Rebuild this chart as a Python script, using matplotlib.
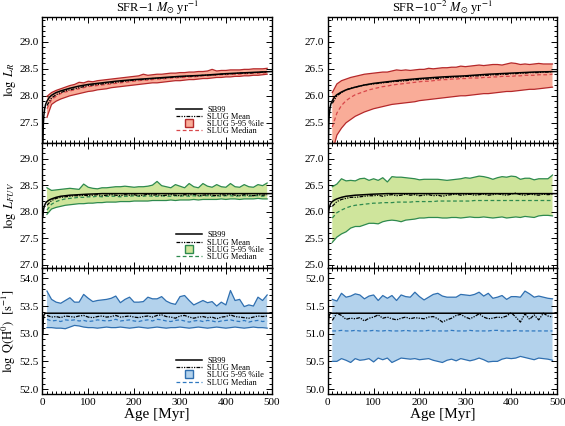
import matplotlib
matplotlib.use("Agg")
import matplotlib.pyplot as plt
from matplotlib.lines import Line2D
from matplotlib.ticker import MultipleLocator, FormatStrFormatter
import numpy as np

plt.rcParams['font.family'] = ['Liberation Serif', 'DejaVu Serif']
plt.rcParams['mathtext.fontset'] = 'stix'

# SLUG output ages [Myr]
t_slug = np.arange(10, 500, 10)
# SB99 ages [Myr]
t_sb = [1, 2, 3, 5, 7, 10, 15, 20, 30, 40, 60, 80, 100, 130, 160, 200, 250, 300, 350, 400, 450, 500]

# ---- log L_R, SFR = 1
lr1_sb99 = [27.10, 27.45, 27.62, 27.76, 27.84, 27.90, 27.97, 28.01, 28.06, 28.09, 28.14, 28.18, 28.21,
            28.24, 28.27, 28.30, 28.33, 28.36, 28.38, 28.41, 28.43, 28.45]
lr1_hi = [27.99, 28.06, 28.10, 28.13, 28.16, 28.19, 28.21, 28.25, 28.24, 28.27, 28.26, 28.28, 28.29, 28.30,
          28.31, 28.32, 28.33, 28.34, 28.35, 28.36, 28.37, 28.40, 28.38, 28.39, 28.40, 28.40, 28.41, 28.42,
          28.42, 28.43, 28.43, 28.44, 28.44, 28.45, 28.45, 28.46, 28.49, 28.46, 28.47, 28.47, 28.48, 28.48,
          28.48, 28.49, 28.49, 28.50, 28.50, 28.50, 28.51]
lr1_lo = [27.60, 27.84, 27.90, 27.94, 27.97, 28.00, 28.02, 28.04, 28.06, 28.08, 28.09, 28.11, 28.12, 28.13,
          28.15, 28.16, 28.17, 28.18, 28.19, 28.20, 28.21, 28.22, 28.23, 28.24, 28.24, 28.25, 28.26, 28.27,
          28.28, 28.28, 28.29, 28.30, 28.30, 28.31, 28.32, 28.32, 28.33, 28.34, 28.34, 28.35, 28.35, 28.36,
          28.36, 28.37, 28.37, 28.38, 28.38, 28.39, 28.40]
lr1_mean = [27.82, 27.96, 28.02, 28.06, 28.09, 28.11, 28.13, 28.15, 28.17, 28.19, 28.20, 28.21, 28.22, 28.23,
            28.24, 28.25, 28.26, 28.27, 28.28, 28.29, 28.30, 28.30, 28.31, 28.32, 28.32, 28.33, 28.33, 28.34,
            28.35, 28.35, 28.36, 28.36, 28.37, 28.37, 28.38, 28.38, 28.39, 28.39, 28.40, 28.40, 28.41, 28.41,
            28.42, 28.42, 28.42, 28.43, 28.43, 28.44, 28.44]
lr1_med = [27.76, 27.93, 27.99, 28.04, 28.07, 28.09, 28.11, 28.13, 28.15, 28.17, 28.18, 28.19, 28.20, 28.21,
           28.22, 28.23, 28.24, 28.25, 28.26, 28.27, 28.28, 28.29, 28.29, 28.30, 28.31, 28.31, 28.32, 28.33,
           28.33, 28.34, 28.34, 28.35, 28.35, 28.36, 28.37, 28.37, 28.38, 28.38, 28.39, 28.39, 28.40, 28.40,
           28.40, 28.41, 28.41, 28.42, 28.42, 28.42, 28.43]

# ---- log L_R, SFR = 1e-2
lr2_sb99 = [25.05, 25.42, 25.62, 25.77, 25.85, 25.91, 25.98, 26.02, 26.07, 26.11, 26.16, 26.20, 26.23,
            26.26, 26.29, 26.32, 26.35, 26.37, 26.40, 26.42, 26.44, 26.45]
lr2_hi = [26.06, 26.22, 26.28, 26.31, 26.34, 26.36, 26.38, 26.40, 26.41, 26.42, 26.43, 26.44, 26.44, 26.46,
          26.48, 26.47, 26.48, 26.47, 26.48, 26.49, 26.49, 26.51, 26.50, 26.51, 26.52, 26.52, 26.53, 26.53,
          26.55, 26.54, 26.55, 26.56, 26.57, 26.56, 26.57, 26.58, 26.58, 26.57, 26.59, 26.61, 26.60, 26.58,
          26.59, 26.58, 26.59, 26.60, 26.59, 26.59, 26.59]
lr2_lo = [24.95, 25.27, 25.40, 25.50, 25.56, 25.62, 25.66, 25.70, 25.73, 25.76, 25.78, 25.80, 25.82, 25.84,
          25.85, 25.86, 25.87, 25.88, 25.89, 25.91, 25.92, 25.93, 25.94, 25.95, 25.96, 25.97, 25.98, 25.99,
          26.00, 26.00, 26.01, 26.02, 26.03, 26.04, 26.04, 26.05, 26.06, 26.07, 26.08, 26.08, 26.09, 26.10,
          26.11, 26.12, 26.12, 26.13, 26.14, 26.15, 26.16]
lr2_mean = [25.86, 26.00, 26.06, 26.11, 26.14, 26.16, 26.18, 26.20, 26.21, 26.22, 26.23, 26.24, 26.25, 26.26,
            26.27, 26.27, 26.28, 26.29, 26.30, 26.30, 26.31, 26.31, 26.32, 26.32, 26.33, 26.34, 26.34, 26.35,
            26.35, 26.36, 26.36, 26.37, 26.37, 26.38, 26.38, 26.39, 26.39, 26.40, 26.40, 26.41, 26.41, 26.42,
            26.42, 26.43, 26.43, 26.43, 26.44, 26.44, 26.45]
lr2_med = [25.42, 25.68, 25.82, 25.91, 25.97, 26.02, 26.05, 26.08, 26.11, 26.13, 26.15, 26.17, 26.18, 26.20,
           26.21, 26.22, 26.23, 26.24, 26.25, 26.26, 26.27, 26.27, 26.28, 26.29, 26.30, 26.30, 26.31, 26.31,
           26.32, 26.32, 26.33, 26.33, 26.33, 26.34, 26.34, 26.35, 26.35, 26.36, 26.36, 26.36, 26.37, 26.37,
           26.38, 26.38, 26.38, 26.39, 26.39, 26.39, 26.40]

# ---- log L_FUV, SFR = 1
fuv1_sb99 = [27.90, 28.00, 28.06, 28.12, 28.16, 28.19, 28.22, 28.24, 28.27, 28.29, 28.31, 28.32, 28.33,
             28.34, 28.34, 28.34, 28.34, 28.34, 28.34, 28.34, 28.34, 28.34]
fuv1_hi = [28.45, 28.40, 28.41, 28.42, 28.43, 28.44, 28.43, 28.42, 28.52, 28.46, 28.44, 28.43, 28.45, 28.45,
           28.46, 28.47, 28.47, 28.48, 28.47, 28.46, 28.47, 28.47, 28.48, 28.50, 28.57, 28.49, 28.47, 28.45,
           28.51, 28.48, 28.45, 28.53, 28.47, 28.45, 28.53, 28.48, 28.46, 28.51, 28.47, 28.46, 28.53, 28.47,
           28.46, 28.51, 28.47, 28.46, 28.51, 28.49, 28.54]
fuv1_lo = [27.95, 28.05, 28.08, 28.10, 28.12, 28.13, 28.14, 28.15, 28.15, 28.16, 28.16, 28.17, 28.17, 28.18,
           28.18, 28.18, 28.19, 28.19, 28.19, 28.20, 28.20, 28.20, 28.20, 28.21, 28.21, 28.21, 28.21, 28.22,
           28.21, 28.22, 28.22, 28.22, 28.23, 28.22, 28.23, 28.23, 28.23, 28.23, 28.24, 28.23, 28.24, 28.24,
           28.23, 28.24, 28.24, 28.24, 28.25, 28.24, 28.24]
fuv1_mean = [28.12, 28.21, 28.25, 28.27, 28.28, 28.29, 28.30, 28.30, 28.31, 28.30, 28.31, 28.32, 28.30, 28.31,
             28.32, 28.31, 28.30, 28.32, 28.31, 28.32, 28.30, 28.31, 28.33, 28.31, 28.32, 28.30, 28.31, 28.32,
             28.31, 28.30, 28.32, 28.31, 28.33, 28.30, 28.31, 28.32, 28.31, 28.30, 28.32, 28.31, 28.33, 28.31,
             28.30, 28.32, 28.31, 28.30, 28.32, 28.31, 28.32]
fuv1_med = [28.03, 28.14, 28.19, 28.22, 28.24, 28.25, 28.26, 28.27, 28.27, 28.28, 28.28, 28.29, 28.28, 28.29,
            28.29, 28.29, 28.28, 28.29, 28.29, 28.30, 28.29, 28.29, 28.30, 28.29, 28.29, 28.30, 28.29, 28.29,
            28.30, 28.29, 28.30, 28.29, 28.30, 28.29, 28.30, 28.30, 28.29, 28.30, 28.29, 28.30, 28.30, 28.29,
            28.30, 28.30, 28.29, 28.30, 28.30, 28.29, 28.30]

# ---- log L_FUV, SFR = 1e-2
fuv2_sb99 = [25.90, 26.00, 26.06, 26.12, 26.16, 26.19, 26.22, 26.24, 26.27, 26.29, 26.31, 26.32, 26.33,
             26.34, 26.34, 26.34, 26.34, 26.34, 26.34, 26.34, 26.34, 26.34]
fuv2_hi = [26.47, 26.52, 26.62, 26.58, 26.59, 26.58, 26.62, 26.63, 26.59, 26.62, 26.59, 26.64, 26.56, 26.66,
           26.65, 26.65, 26.64, 26.63, 26.62, 26.60, 26.61, 26.61, 26.61, 26.61, 26.60, 26.59, 26.60, 26.61,
           26.62, 26.64, 26.63, 26.65, 26.67, 26.66, 26.64, 26.61, 26.64, 26.66, 26.65, 26.67, 26.66, 26.61,
           26.63, 26.63, 26.60, 26.62, 26.62, 26.62, 26.69]
fuv2_lo = [25.42, 25.52, 25.58, 25.62, 25.69, 25.72, 25.72, 25.75, 25.78, 25.78, 25.77, 25.81, 25.83, 25.84,
           25.83, 25.81, 25.84, 25.85, 25.86, 25.88, 25.88, 25.89, 25.89, 25.89, 25.88, 25.88, 25.89, 25.89,
           25.88, 25.89, 25.90, 25.89, 25.89, 25.90, 25.89, 25.88, 25.89, 25.90, 25.88, 25.89, 25.90, 25.89,
           25.91, 25.90, 25.89, 25.92, 25.93, 25.93, 25.92]
fuv2_mean = [26.10, 26.19, 26.23, 26.25, 26.27, 26.27, 26.28, 26.29, 26.30, 26.30, 26.31, 26.29, 26.31, 26.32,
             26.30, 26.31, 26.33, 26.31, 26.32, 26.30, 26.31, 26.32, 26.30, 26.31, 26.29, 26.31, 26.32, 26.33,
             26.31, 26.32, 26.33, 26.31, 26.32, 26.33, 26.31, 26.32, 26.34, 26.32, 26.31, 26.33, 26.35, 26.32,
             26.31, 26.33, 26.32, 26.31, 26.33, 26.32, 26.33]
fuv2_med = [25.88, 25.98, 26.03, 26.07, 26.10, 26.12, 26.13, 26.14, 26.15, 26.16, 26.16, 26.17, 26.17, 26.17,
            26.18, 26.18, 26.18, 26.18, 26.19, 26.19, 26.19, 26.19, 26.19, 26.20, 26.20, 26.20, 26.20, 26.20,
            26.20, 26.20, 26.20, 26.21, 26.21, 26.21, 26.21, 26.21, 26.21, 26.21, 26.21, 26.21, 26.21, 26.21,
            26.21, 26.21, 26.21, 26.21, 26.21, 26.21, 26.21]

# ---- log Q(H0), SFR = 1
q1_sb99 = [53.00, 53.25, 53.33, 53.36, 53.37, 53.37, 53.37, 53.37, 53.37, 53.37, 53.37, 53.37, 53.37,
           53.37, 53.37, 53.37, 53.37, 53.37, 53.37, 53.37, 53.37, 53.37]
q1_hi = [53.77, 53.62, 53.57, 53.55, 53.60, 53.65, 53.57, 53.57, 53.71, 53.64, 53.58, 53.60, 53.61, 53.62,
         53.64, 53.68, 53.56, 53.62, 53.66, 53.57, 53.57, 53.58, 53.66, 53.63, 53.63, 53.67, 53.59, 53.55,
         53.53, 53.67, 53.69, 53.60, 53.52, 53.56, 53.60, 53.56, 53.58, 53.50, 53.57, 53.52, 53.78, 53.60,
         53.62, 53.49, 53.52, 53.50, 53.66, 53.60, 53.70]
q1_lo = [53.11, 53.11, 53.10, 53.10, 53.09, 53.12, 53.15, 53.14, 53.12, 53.11, 53.11, 53.10, 53.11, 53.12,
         53.11, 53.11, 53.12, 53.11, 53.10, 53.11, 53.12, 53.11, 53.10, 53.11, 53.12, 53.11, 53.10, 53.11,
         53.11, 53.12, 53.11, 53.10, 53.11, 53.12, 53.11, 53.10, 53.11, 53.12, 53.11, 53.10, 53.11, 53.12,
         53.11, 53.10, 53.11, 53.12, 53.11, 53.11, 53.10]
q1_mean = [53.33, 53.30, 53.31, 53.29, 53.32, 53.31, 53.30, 53.32, 53.33, 53.30, 53.29, 53.31, 53.32, 53.30,
           53.31, 53.33, 53.30, 53.31, 53.32, 53.30, 53.29, 53.31, 53.32, 53.30, 53.33, 53.34, 53.31, 53.30,
           53.28, 53.32, 53.33, 53.30, 53.28, 53.30, 53.31, 53.29, 53.30, 53.27, 53.30, 53.31, 53.34, 53.31,
           53.30, 53.29, 53.28, 53.30, 53.32, 53.31, 53.32]
q1_med = [53.26, 53.23, 53.24, 53.22, 53.25, 53.24, 53.25, 53.23, 53.24, 53.22, 53.23, 53.25, 53.24, 53.23,
          53.24, 53.26, 53.23, 53.24, 53.25, 53.23, 53.22, 53.24, 53.25, 53.23, 53.26, 53.25, 53.23, 53.22,
          53.24, 53.25, 53.23, 53.21, 53.23, 53.24, 53.22, 53.24, 53.23, 53.21, 53.23, 53.24, 53.25, 53.23,
          53.22, 53.24, 53.21, 53.23, 53.24, 53.22, 53.23]

# ---- log Q(H0), SFR = 1e-2
q2_sb99 = [51.00, 51.25, 51.33, 51.36, 51.37, 51.37, 51.37, 51.37, 51.37, 51.37, 51.37, 51.37, 51.37,
           51.37, 51.37, 51.37, 51.37, 51.37, 51.37, 51.37, 51.37, 51.37]
q2_hi = [51.62, 51.59, 51.73, 51.66, 51.68, 51.72, 51.70, 51.63, 51.68, 51.70, 51.60, 51.69, 51.64, 51.69,
         51.60, 51.70, 51.67, 51.66, 51.75, 51.67, 51.61, 51.66, 51.71, 51.73, 51.68, 51.66, 51.66, 51.66,
         51.71, 51.70, 51.69, 51.71, 51.75, 51.68, 51.73, 51.64, 51.66, 51.69, 51.62, 51.67, 51.67, 51.66,
         51.77, 51.72, 51.66, 51.68, 51.66, 51.64, 51.63]
q2_lo = [50.50, 50.50, 50.55, 50.52, 50.48, 50.55, 50.52, 50.53, 50.55, 50.49, 50.56, 50.53, 50.56, 50.48,
         50.52, 50.56, 50.55, 50.54, 50.55, 50.53, 50.54, 50.55, 50.52, 50.50, 50.48, 50.52, 50.54, 50.51,
         50.55, 50.53, 50.51, 50.53, 50.56, 50.53, 50.49, 50.50, 50.50, 50.54, 50.56, 50.55, 50.56, 50.59,
         50.57, 50.55, 50.53, 50.56, 50.55, 50.54, 50.52]
q2_mean = [51.24, 51.37, 51.33, 51.26, 51.28, 51.27, 51.29, 51.23, 51.28, 51.30, 51.34, 51.28, 51.30, 51.27,
           51.25, 51.28, 51.30, 51.27, 51.29, 51.28, 51.27, 51.30, 51.31, 51.27, 51.21, 51.25, 51.28, 51.33,
           51.35, 51.30, 51.27, 51.31, 51.36, 51.30, 51.27, 51.28, 51.30, 51.29, 51.32, 51.38, 51.30, 51.21,
           51.36, 51.26, 51.34, 51.25, 51.37, 51.32, 51.30]
q2_med = [51.05, 51.05, 51.06, 51.05, 51.05, 51.06, 51.05, 51.05, 51.05, 51.06, 51.05, 51.05, 51.06, 51.05,
          51.05, 51.05, 51.06, 51.05, 51.05, 51.05, 51.05, 51.06, 51.05, 51.05, 51.05, 51.05, 51.06, 51.05,
          51.05, 51.05, 51.06, 51.05, 51.05, 51.05, 51.05, 51.06, 51.06, 51.05, 51.05, 51.05, 51.06, 51.05,
          51.05, 51.05, 51.05, 51.05, 51.05, 51.05, 51.05]

# colours per row: (fill, edge, median)
RED = ("#f9ac98", "#b5282a", "#d8474a")
GREEN = ("#cfe59c", "#2e8a4e", "#2e8a4e")
BLUE = ("#b3d2ec", "#2f6fb0", "#2f78c0")

rows = [
    [(lr1_sb99, lr1_hi, lr1_lo, lr1_mean, lr1_med), (lr2_sb99, lr2_hi, lr2_lo, lr2_mean, lr2_med)],
    [(fuv1_sb99, fuv1_hi, fuv1_lo, fuv1_mean, fuv1_med), (fuv2_sb99, fuv2_hi, fuv2_lo, fuv2_mean, fuv2_med)],
    [(q1_sb99, q1_hi, q1_lo, q1_mean, q1_med), (q2_sb99, q2_hi, q2_lo, q2_mean, q2_med)],
]
row_colors = [RED, GREEN, BLUE]
ylims = [[(27.13, 29.46), (25.13, 27.46)],
         [(26.93, 29.30), (24.93, 27.30)],
         [(51.91, 54.18), (49.91, 52.18)]]
ylabels = [r"$\log\ L_R$", r"$\log\ L_{FUV}$", r"$\log\ \mathrm{Q(H^0)}\ \ [\mathrm{s}^{-1}]$"]
titles = [r"SFR$-$1 $M_{\odot}$ yr$^{-1}$", r"SFR$-$10$^{-2}$ $M_{\odot}$ yr$^{-1}$"]

fig, axes = plt.subplots(3, 2, figsize=(5.65, 4.26), dpi=100)
fig.subplots_adjust(left=0.075, right=0.986, top=0.960, bottom=0.075, wspace=0.244, hspace=0.0)

for r in range(3):
    fill, edge, medc = row_colors[r]
    for c in range(2):
        ax = axes[r, c]
        sb99, hi, lo, mean, med = rows[r][c]
        ax.fill_between(t_slug, lo, hi, facecolor=fill, edgecolor="none", zorder=1)
        ax.plot(t_slug, hi, color=edge, lw=0.9, zorder=2)
        ax.plot(t_slug, lo, color=edge, lw=0.9, zorder=2)
        ax.plot(t_sb, sb99, color="black", lw=1.1, zorder=4)
        ax.plot(t_slug, mean, color="black", lw=0.9, dashes=(3, 1, 1, 1, 1, 1), zorder=5)
        ax.plot(t_slug, med, color=medc, lw=0.9, dashes=(3, 2), zorder=3)

        ax.set_xlim(0, 500)
        ax.set_ylim(*ylims[r][c])
        ax.xaxis.set_major_locator(MultipleLocator(100))
        ax.xaxis.set_minor_locator(MultipleLocator(10))
        ax.yaxis.set_major_locator(MultipleLocator(0.5))
        ax.yaxis.set_minor_locator(MultipleLocator(0.1))
        ax.yaxis.set_major_formatter(FormatStrFormatter("%.1f"))
        ax.tick_params(which="both", direction="in", top=True, right=True, labelsize=8, width=0.7, pad=2.5)
        ax.tick_params(which="major", length=4)
        ax.tick_params(which="minor", length=2)
        for s in ax.spines.values():
            s.set_linewidth(1.0)
        if r < 2:
            ax.tick_params(labelbottom=False)
        else:
            ax.set_xlabel("Age [Myr]", fontsize=11, labelpad=1)
        if c == 0:
            ax.set_ylabel(ylabels[r], fontsize=9)
            ax.yaxis.set_label_coords(-0.107, 0.5)
            handles = [
                Line2D([], [], color="black", lw=1.1),
                Line2D([], [], color="black", lw=0.9, dashes=(3, 1, 1, 1, 1, 1)),
                Line2D([], [], ls="none", marker="s", ms=5.5, mfc=fill, mec=edge, mew=1.0),
                Line2D([], [], color=medc, lw=0.9, dashes=(3, 2)),
            ]
            ax.legend(handles, ["SB99", "SLUG Mean", "SLUG 5-95 %ile", "SLUG Median"],
                      loc="lower right", fontsize=6, frameon=False, labelspacing=-0.1,
                      handlelength=3.2, handletextpad=0.6, borderaxespad=0.5)
        if r == 0:
            ax.set_title(titles[c], fontsize=9, pad=2.5)

fig.savefig("out.png", dpi=100)
